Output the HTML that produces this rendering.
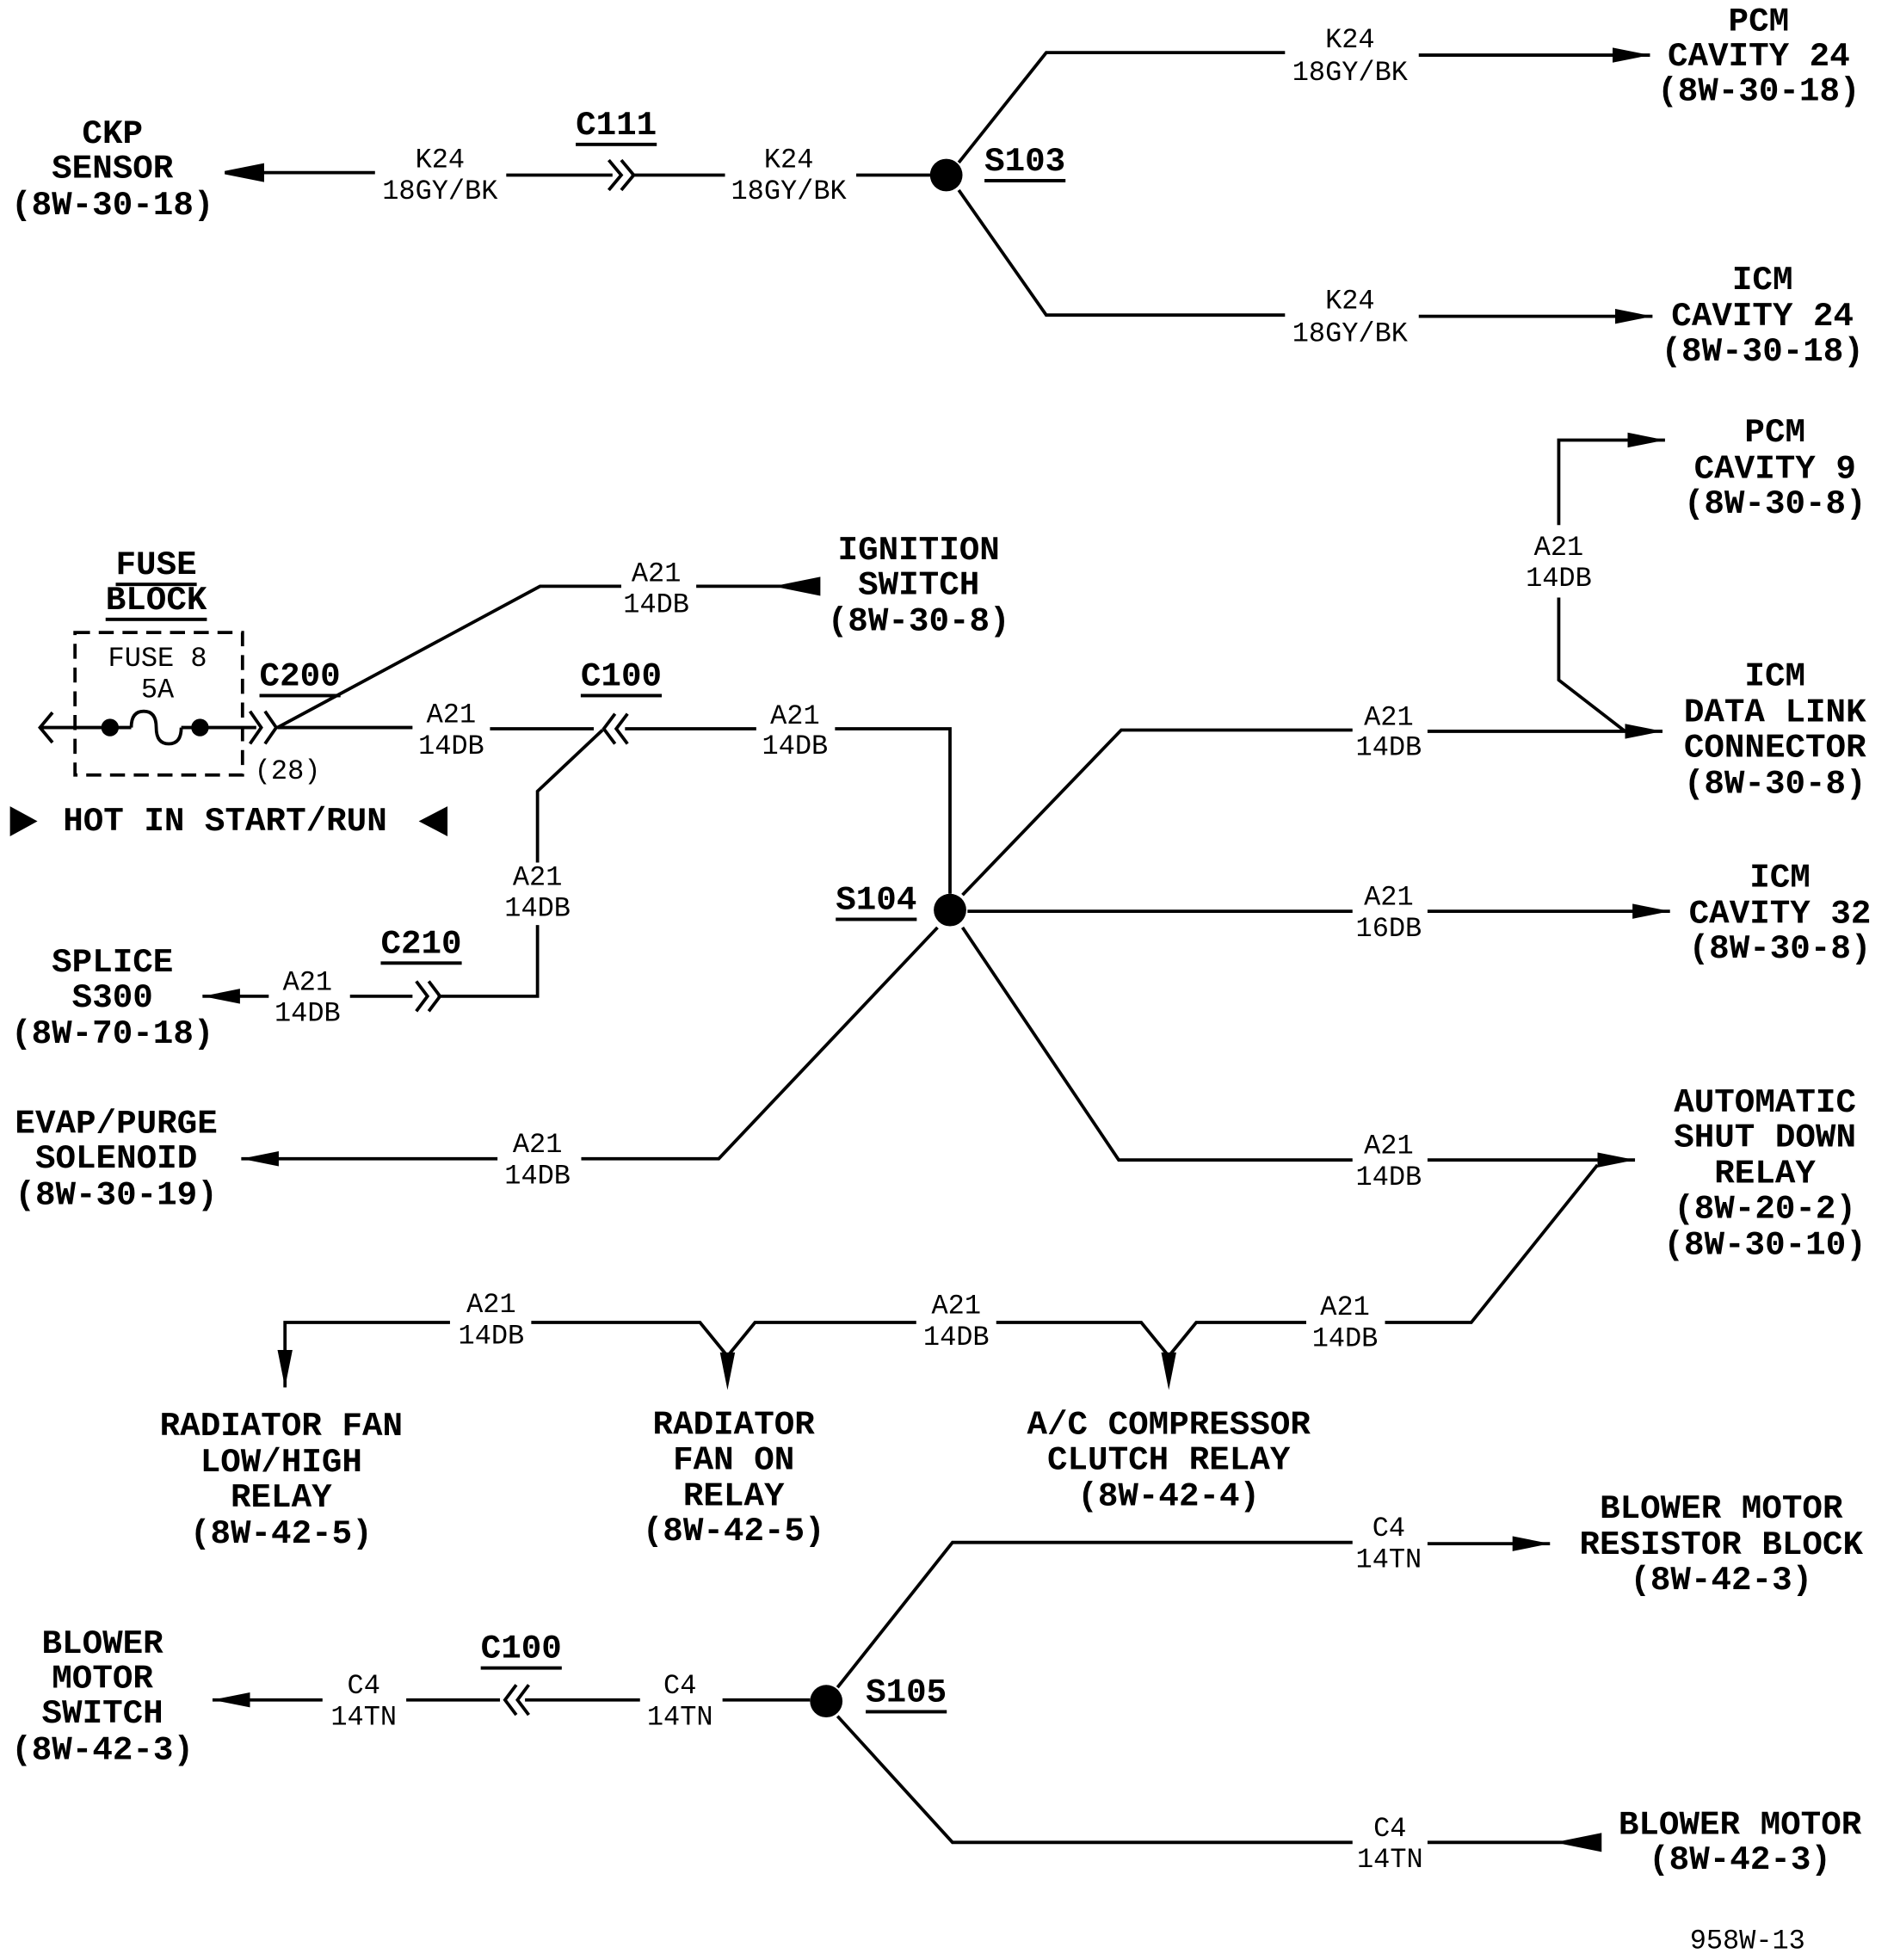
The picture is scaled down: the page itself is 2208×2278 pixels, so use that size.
<!DOCTYPE html>
<html><head><meta charset="utf-8"><style>
html,body{margin:0;padding:0;background:#fff;}
svg{display:block;}
.b{font-family:"Liberation Mono",monospace;font-weight:bold;font-size:27px;text-anchor:middle;dominant-baseline:central;}
.w{font-family:"Liberation Mono",monospace;font-size:22px;text-anchor:middle;dominant-baseline:central;}
.l{fill:none;stroke:#000;stroke-width:2.6;}
</style></head><body>
<svg width="2208" height="2278" viewBox="0 0 1520 1568" xmlns="http://www.w3.org/2000/svg">
<defs>
<marker id="a" viewBox="0 0 30 12" refX="30" refY="6" markerWidth="30" markerHeight="12" markerUnits="userSpaceOnUse" orient="auto"><path d="M0,0 L30,6 L0,12 z" fill="#000"/></marker>
</defs>
<g class="l">
<path d="M210,138 L300,138" />
<path d="M180,138 l30,-6 v12 z" fill="#000"/>
<path d="M405,140 L490,140 M505,140 L580,140 M685,140 L745,140"/>
<path d="M487,128 l10,12 l-10,12 M497,128 l10,12 l-10,12"/>
<path d="M767,130 L837,42 L1028,42 M1135,44 L1320,44" marker-end="url(#a)"/>
<path d="M767,152 L837,252 L1028,252 M1135,253 L1322,253" marker-end="url(#a)"/>
<rect x="60" y="506" width="134" height="114" stroke-dasharray="12,7"/>
<path d="M32,582 L105,582 M145,582 L205,582"/>
<path d="M42,570 l-10,12 l10,12"/>
<path d="M105,582 q0,-13 10,-13 q10,0 10,13 q0,13 10,13 q10,0 10,-13"/>
<path d="M200,569 l9,13 l-9,13 M212,569 l9,13 l-9,13"/>
<path d="M222,582 L432,469 L497,469 M557,469 L625,469"/>
<path d="M222,582 L330,582 M392,583 L475,583"/>
<path d="M492,571 l-9,12 l9,12 M502,571 l-9,12 l9,12"/>
<path d="M500,583 L605,583 M668,583 L760,583 L760,715"/>
<path d="M482,584 L430,633 L430,690 M430,740 L430,797 L350,797"/>
<path d="M333,785 l9,12 l-9,12 M343,785 l9,12 l-9,12"/>
<path d="M330,797 L280,797 M215,797 L162,797" marker-end="url(#a)"/>
<path d="M770,716 L897,584 L1082,584 M1142,585 L1330,585" marker-end="url(#a)"/>
<path d="M1247,420 L1247,352 L1332,352" marker-end="url(#a)"/>
<path d="M1247,478 L1247,544 L1300,585"/>
<path d="M774,729 L1082,729 M1142,729 L1336,729" marker-end="url(#a)"/>
<path d="M750,742 L575,927 L465,927 M398,927 L193,927" marker-end="url(#a)"/>
<path d="M770,742 L895,928 L1082,928 M1142,928 L1308,928" marker-end="url(#a)"/>
<path d="M1278,932 L1177,1058 L1108,1058 M1045,1058 L957,1058 L935,1085 L913,1058 L797,1058 M733,1058 L604,1058 L582,1085 L560,1058 L425,1058 M360,1058 L228,1058 L228,1110" marker-end="url(#a)"/>
<path d="M670,1350 L762,1234 L1082,1234 M1142,1235 L1240,1235" marker-end="url(#a)"/>
<path d="M670,1373 L762,1474 L1082,1474 M1142,1474 L1250,1474"/>
<path d="M1250,1474 l30,-6 v12 z" fill="#000"/>
<path d="M648,1360 L578,1360 M512,1360 L420,1360"/>
<path d="M413,1348 l-9,12 l9,12 M423,1348 l-9,12 l9,12"/>
<path d="M400,1360 L325,1360 M258,1360 L170,1360" marker-end="url(#a)"/>
<path d="M625,469 l30,-6 v12 z" fill="#000"/>
</g>
<path d="M576,1082 L582,1112 L588,1082 z" fill="#000"/>
<path d="M929,1082 L935,1112 L941,1082 z" fill="#000"/>
<circle cx="757" cy="140" r="13"/>
<circle cx="760" cy="728" r="13"/>
<circle cx="661" cy="1361" r="13"/>
<circle cx="88" cy="582" r="7"/>
<circle cx="160" cy="582" r="7"/>
<path d="M8,645 L30,657 L8,669 z M358,645 L335,657 L358,669 z"/>
<g class="b">
<text x="90" y="107">CKP</text><text x="90" y="135">SENSOR</text><text x="90" y="164">(8W-30-18)</text>
<text x="493" y="100" text-decoration="underline">C111</text>
<text x="820" y="129" text-decoration="underline">S103</text>
<text x="1407" y="17">PCM</text><text x="1407" y="45">CAVITY 24</text><text x="1407" y="73">(8W-30-18)</text>
<text x="1410" y="224">ICM</text><text x="1410" y="253">CAVITY 24</text><text x="1410" y="281">(8W-30-18)</text>
<text x="125" y="452" text-decoration="underline">FUSE</text><text x="125" y="480" text-decoration="underline">BLOCK</text>
<text x="240" y="541" text-decoration="underline">C200</text>
<text x="497" y="541" text-decoration="underline">C100</text>
<text x="735" y="440">IGNITION</text><text x="735" y="468">SWITCH</text><text x="735" y="497">(8W-30-8)</text>
<text x="180" y="657">HOT IN START/RUN</text>
<text x="337" y="755" text-decoration="underline">C210</text>
<text x="90" y="770">SPLICE</text><text x="90" y="798">S300</text><text x="90" y="827">(8W-70-18)</text>
<text x="701" y="720" text-decoration="underline">S104</text>
<text x="1420" y="346">PCM</text><text x="1420" y="375">CAVITY 9</text><text x="1420" y="403">(8W-30-8)</text>
<text x="1420" y="541">ICM</text><text x="1420" y="570">DATA LINK</text><text x="1420" y="598">CONNECTOR</text><text x="1420" y="627">(8W-30-8)</text>
<text x="1424" y="702">ICM</text><text x="1424" y="731">CAVITY 32</text><text x="1424" y="759">(8W-30-8)</text>
<text x="93" y="899">EVAP/PURGE</text><text x="93" y="927">SOLENOID</text><text x="93" y="956">(8W-30-19)</text>
<text x="1412" y="882">AUTOMATIC</text><text x="1412" y="910">SHUT DOWN</text><text x="1412" y="939">RELAY</text><text x="1412" y="967">(8W-20-2)</text><text x="1412" y="996">(8W-30-10)</text>
<text x="225" y="1141">RADIATOR FAN</text><text x="225" y="1170">LOW/HIGH</text><text x="225" y="1198">RELAY</text><text x="225" y="1227">(8W-42-5)</text>
<text x="587" y="1140">RADIATOR</text><text x="587" y="1168">FAN ON</text><text x="587" y="1197">RELAY</text><text x="587" y="1225">(8W-42-5)</text>
<text x="935" y="1140">A/C COMPRESSOR</text><text x="935" y="1168">CLUTCH RELAY</text><text x="935" y="1197">(8W-42-4)</text>
<text x="1377" y="1207">BLOWER MOTOR</text><text x="1377" y="1236">RESISTOR BLOCK</text><text x="1377" y="1264">(8W-42-3)</text>
<text x="1392" y="1460">BLOWER MOTOR</text><text x="1392" y="1488">(8W-42-3)</text>
<text x="725" y="1354" text-decoration="underline">S105</text>
<text x="417" y="1319" text-decoration="underline">C100</text>
<text x="82" y="1315">BLOWER</text><text x="82" y="1343">MOTOR</text><text x="82" y="1371">SWITCH</text><text x="82" y="1400">(8W-42-3)</text>
</g>
<g class="w">
<text x="352" y="128">K24</text><text x="352" y="153">18GY/BK</text>
<text x="631" y="128">K24</text><text x="631" y="153">18GY/BK</text>
<text x="1080" y="32">K24</text><text x="1080" y="58">18GY/BK</text>
<text x="1080" y="241">K24</text><text x="1080" y="267">18GY/BK</text>
<text x="126" y="527">FUSE 8</text><text x="126" y="552">5A</text>
<text x="230" y="617">(28)</text>
<text x="525" y="459">A21</text><text x="525" y="484">14DB</text>
<text x="361" y="572">A21</text><text x="361" y="597">14DB</text>
<text x="636" y="573">A21</text><text x="636" y="597">14DB</text>
<text x="430" y="702">A21</text><text x="430" y="727">14DB</text>
<text x="246" y="786">A21</text><text x="246" y="811">14DB</text>
<text x="1247" y="438">A21</text><text x="1247" y="463">14DB</text>
<text x="1111" y="574">A21</text><text x="1111" y="598">14DB</text>
<text x="1111" y="718">A21</text><text x="1111" y="743">16DB</text>
<text x="430" y="916">A21</text><text x="430" y="941">14DB</text>
<text x="1111" y="917">A21</text><text x="1111" y="942">14DB</text>
<text x="1076" y="1046">A21</text><text x="1076" y="1071">14DB</text>
<text x="765" y="1045">A21</text><text x="765" y="1070">14DB</text>
<text x="393" y="1044">A21</text><text x="393" y="1069">14DB</text>
<text x="1111" y="1223">C4</text><text x="1111" y="1248">14TN</text>
<text x="1112" y="1463">C4</text><text x="1112" y="1488">14TN</text>
<text x="544" y="1349">C4</text><text x="544" y="1374">14TN</text>
<text x="291" y="1349">C4</text><text x="291" y="1374">14TN</text>
<text x="1398" y="1553">958W-13</text>
</g>
</svg>
</body></html>
